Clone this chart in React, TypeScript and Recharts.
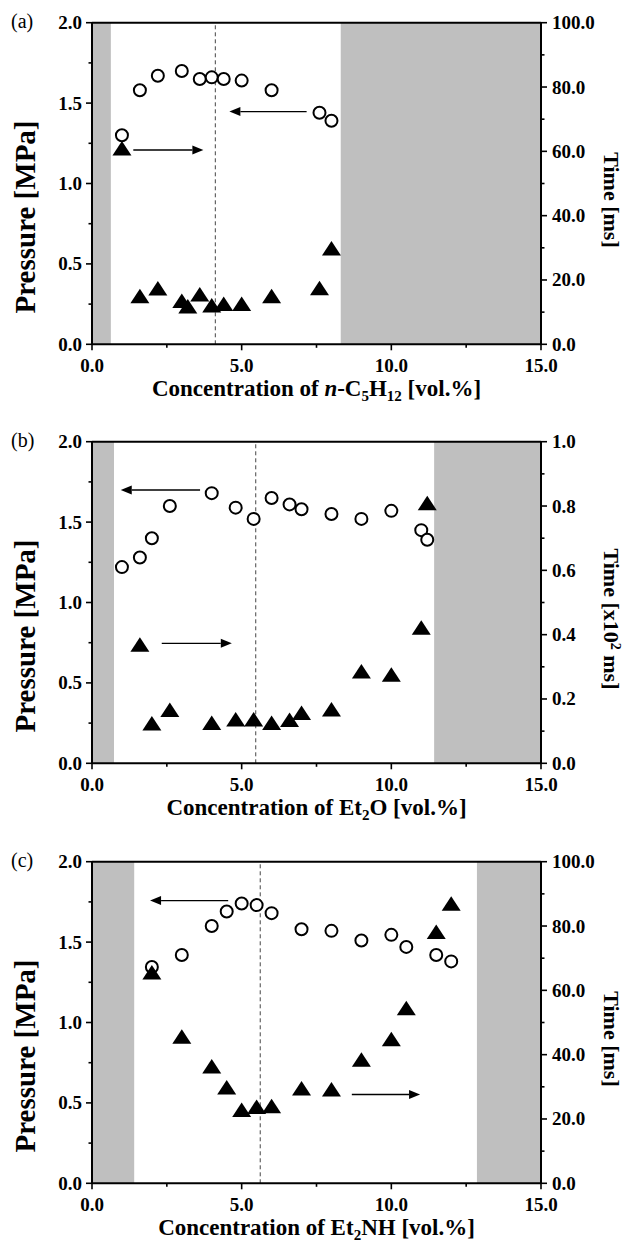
import React from 'react';
import { ScatterChart, Scatter, XAxis, YAxis, ReferenceArea, ReferenceLine, Label } from 'recharts';

const FONT = '"Liberation Serif", "Times New Roman", serif';

// x axis (concentration, vol.%)
const xTicks = [0, 2.5, 5, 7.5, 10, 12.5, 15];
const pressureTicks = [0, 0.25, 0.5, 0.75, 1, 1.25, 1.5, 1.75, 2];
const timeTicksMs = [0, 10, 20, 30, 40, 50, 60, 70, 80, 90, 100];
const timeTicksHms = [0, 0.1, 0.2, 0.3, 0.4, 0.5, 0.6, 0.7, 0.8, 0.9, 1.0];

// (a) n-C5H12
const concPressureA = [1.0, 1.6, 2.2, 3.0, 3.6, 4.0, 4.4, 5.0, 6.0, 7.6, 8.0];
const pressureA = [1.30, 1.58, 1.67, 1.70, 1.65, 1.66, 1.65, 1.64, 1.58, 1.44, 1.39];
const concTimeA = [1.0, 1.6, 2.2, 3.0, 3.2, 3.6, 4.0, 4.4, 5.0, 6.0, 7.6, 8.0];
const timeA = [60.7, 14.8, 17.2, 13.3, 11.6, 15.3, 11.9, 12.4, 12.4, 14.8, 17.3, 29.6];

// (b) Et2O
const concPressureB = [1.0, 1.6, 2.0, 2.6, 4.0, 4.8, 5.4, 6.0, 6.6, 7.0, 8.0, 9.0, 10.0, 11.0, 11.2];
const pressureB = [1.22, 1.28, 1.40, 1.60, 1.68, 1.59, 1.52, 1.65, 1.61, 1.58, 1.55, 1.52, 1.57, 1.45, 1.39];
const concTimeB = [1.6, 2.0, 2.6, 4.0, 4.8, 5.4, 6.0, 6.6, 7.0, 8.0, 9.0, 10.0, 11.0, 11.2];
const timeB = [0.367, 0.122, 0.164, 0.124, 0.135, 0.135, 0.124, 0.133, 0.155, 0.166, 0.284, 0.274, 0.42, 0.807];

// (c) Et2NH
const concPressureC = [2.0, 3.0, 4.0, 4.5, 5.0, 5.5, 6.0, 7.0, 8.0, 9.0, 10.0, 10.5, 11.5, 12.0];
const pressureC = [1.345, 1.42, 1.60, 1.69, 1.74, 1.73, 1.68, 1.58, 1.57, 1.51, 1.545, 1.47, 1.42, 1.38];
const concTimeC = [2.0, 3.0, 4.0, 4.5, 5.0, 5.5, 6.0, 7.0, 8.0, 9.0, 10.0, 10.5, 11.5, 12.0];
const timeC = [65.4, 45.4, 36.2, 29.6, 22.6, 23.6, 23.8, 29.3, 29.0, 38.3, 44.6, 54.3, 78.0, 86.8];

// non-flammable zones (shaded), stoichiometric line, arrow annotations [from, to, pressure]
const zonesA = [[0, 0.63], [8.31, 15]];
const zonesB = [[0, 0.735], [11.43, 15]];
const zonesC = [[0, 1.41], [12.86, 15]];
const stoichA = 4.12;
const stoichB = 5.47;
const stoichC = 5.62;
const arrowsA = [[1.38, 3.72, 1.208], [7.17, 4.59, 1.447]];
const arrowsB = [[3.61, 0.96, 1.70], [2.33, 4.67, 0.746]];
const arrowsC = [[4.55, 1.94, 1.758], [8.68, 10.96, 0.552]];

const W = 626;
const H = 420;

const toPoints = (xs: number[], ys: number[]) => xs.map((x, i) => ({ x, y: ys[i] }));

const makeTick = (side: 'left' | 'right' | 'bottom', step: number, digits: number) => (props: any) => {
  const { x, y, payload } = props;
  const v = payload.value;
  const major = Math.abs(v / step - Math.round(v / step)) < 1e-6;
  const len = major ? 6 : 3.5;
  const label = v.toFixed(digits);
  const txt = { fontFamily: FONT, fontWeight: 700, fontSize: 19, fill: '#000' };
  if (side === 'left') {
    return (
      <g>
        <line x1={x} y1={y} x2={x - len} y2={y} stroke="#000" strokeWidth={1.6} />
        {major && <text x={x - 10} y={y + 6.5} textAnchor="end" {...txt}>{label}</text>}
      </g>
    );
  }
  if (side === 'right') {
    return (
      <g>
        <line x1={x} y1={y} x2={x + len} y2={y} stroke="#000" strokeWidth={1.6} />
        {major && <text x={x + 11} y={y + 6.5} textAnchor="start" {...txt}>{label}</text>}
      </g>
    );
  }
  return (
    <g>
      <line x1={x} y1={y} x2={x} y2={y + len} stroke="#000" strokeWidth={1.6} />
      {major && <text x={x} y={y + 27.5} textAnchor="middle" {...txt}>{label}</text>}
    </g>
  );
};

const Arrow = (props: any) => {
  const { x1, y1, x2, y2 } = props;
  const dir = x2 > x1 ? 1 : -1;
  const head = 11;
  return (
    <g>
      <line x1={x1} y1={y1} x2={x2 - dir * head} y2={y2} stroke="#000" strokeWidth={1.4} />
      <polygon points={`${x2},${y2} ${x2 - dir * head},${y2 - 4.5} ${x2 - dir * head},${y2 + 4.5}`} fill="#000" />
    </g>
  );
};

const OpenCircle = (props: any) => (
  <circle cx={props.cx} cy={props.cy} r={6} fill="#fff" stroke="#000" strokeWidth={2} />
);

const FilledTriangle = (props: any) => {
  const { cx, cy } = props;
  return <polygon points={`${cx},${cy - 8} ${cx - 9.5},${cy + 6.5} ${cx + 9.5},${cy + 6.5}`} fill="#000" />;
};

type PanelProps = {
  tag: string;
  concP: number[];
  pres: number[];
  concT: number[];
  time: number[];
  timeTicks: number[];
  timeMax: number;
  timeStep: number;
  zones: number[][];
  stoich: number;
  arrows: number[][];
  xTitle: React.ReactNode;
  timeTitle: React.ReactNode;
};

function Panel(p: PanelProps) {
  const titleStyle = { fontFamily: FONT, fontWeight: 700, fill: '#000' };
  return (
    <div style={{ position: 'relative', width: W, height: H }}>
      <div style={{ position: 'absolute', left: 11, top: 9, fontFamily: FONT, fontSize: 20, lineHeight: '24px' }}>{p.tag}</div>
      <ScatterChart width={W} height={H} margin={{ top: 22.7, right: 0, bottom: 25.7, left: 0 }}>
        <XAxis
          type="number"
          dataKey="x"
          domain={[0, 15]}
          ticks={xTicks}
          interval={0}
          height={50}
          tickSize={0}
          tickMargin={0}
          tickLine={false}
          axisLine={{ stroke: '#000', strokeWidth: 2 }}
          tick={makeTick('bottom', 5, 1)}
        >
          <Label
            content={(lp: any) => {
              const vb = lp.viewBox;
              return (
                <text x={vb.x + vb.width / 2} y={vb.y + 52} textAnchor="middle" fontSize={23} {...titleStyle}>
                  {p.xTitle}
                </text>
              );
            }}
          />
        </XAxis>
        <YAxis
          yAxisId="p"
          type="number"
          dataKey="y"
          domain={[0, 2]}
          ticks={pressureTicks}
          interval={0}
          width={92}
          tickSize={0}
          tickMargin={0}
          tickLine={false}
          axisLine={{ stroke: '#000', strokeWidth: 2 }}
          tick={makeTick('left', 0.5, 1)}
        >
          <Label
            content={(lp: any) => {
              const vb = lp.viewBox;
              const cx = 35;
              const cy = vb.y + vb.height / 2 + 33.5;
              return (
                <text x={cx} y={cy} textAnchor="middle" fontSize={29} transform={`rotate(-90 ${cx} ${cy})`} {...titleStyle}>
                  Pressure [MPa]
                </text>
              );
            }}
          />
        </YAxis>
        <YAxis
          yAxisId="t"
          orientation="right"
          type="number"
          dataKey="y"
          domain={[0, p.timeMax]}
          ticks={p.timeTicks}
          interval={0}
          width={85}
          tickSize={0}
          tickMargin={0}
          tickLine={false}
          axisLine={{ stroke: '#000', strokeWidth: 2 }}
          tick={makeTick('right', p.timeStep, 1)}
        >
          <Label
            content={(lp: any) => {
              const vb = lp.viewBox;
              const cx = vb.x + 63;
              const cy = vb.y + vb.height / 2 + 16.5;
              return (
                <text x={cx} y={cy} textAnchor="middle" fontSize={22} transform={`rotate(90 ${cx} ${cy})`} {...titleStyle}>
                  {p.timeTitle}
                </text>
              );
            }}
          />
        </YAxis>
        {p.zones.map((z, i) => (
          <ReferenceArea key={`z${i}`} yAxisId="p" x1={z[0]} x2={z[1]} y1={0} y2={2} fill="#bfbfbf" fillOpacity={1} stroke="none" />
        ))}
        <ReferenceLine yAxisId="p" x={p.stoich} stroke="#444" strokeWidth={1} strokeDasharray="4 3" />
        <ReferenceLine yAxisId="p" y={2} stroke="#000" strokeWidth={2} />
        {p.arrows.map((a, i) => (
          <ReferenceLine
            key={`a${i}`}
            yAxisId="p"
            segment={[{ x: a[0], y: a[2] }, { x: a[1], y: a[2] }]}
            shape={(sp: any) => <Arrow {...sp} />}
          />
        ))}
        <Scatter yAxisId="p" data={toPoints(p.concP, p.pres)} shape={OpenCircle} isAnimationActive={false} />
        <Scatter yAxisId="t" data={toPoints(p.concT, p.time)} shape={FilledTriangle} isAnimationActive={false} />
      </ScatterChart>
    </div>
  );
}

export default function App() {
  return (
    <div style={{ position: 'absolute', left: 0, top: 0, width: W, height: 1249, background: '#fff' }}>
      <div style={{ position: 'absolute', left: 0, top: 0 }}>
        <Panel
          tag="(a)"
          concP={concPressureA}
          pres={pressureA}
          concT={concTimeA}
          time={timeA}
          timeTicks={timeTicksMs}
          timeMax={100}
          timeStep={20}
          zones={zonesA}
          stoich={stoichA}
          arrows={arrowsA}
          xTitle={
            <>
              <tspan>{'Concentration of '}</tspan>
              <tspan fontStyle="italic">n</tspan>
              <tspan>-C</tspan>
              <tspan dy={5} fontSize={15}>5</tspan>
              <tspan dy={-5}>H</tspan>
              <tspan dy={5} fontSize={15}>12</tspan>
              <tspan dy={-5}>{' [vol.%]'}</tspan>
            </>
          }
          timeTitle="Time [ms]"
        />
      </div>
      <div style={{ position: 'absolute', left: 0, top: 419 }}>
        <Panel
          tag="(b)"
          concP={concPressureB}
          pres={pressureB}
          concT={concTimeB}
          time={timeB}
          timeTicks={timeTicksHms}
          timeMax={1}
          timeStep={0.2}
          zones={zonesB}
          stoich={stoichB}
          arrows={arrowsB}
          xTitle={
            <>
              <tspan>{'Concentration of Et'}</tspan>
              <tspan dy={5} fontSize={15}>2</tspan>
              <tspan dy={-5}>{'O [vol.%]'}</tspan>
            </>
          }
          timeTitle={
            <>
              <tspan>{'Time [x10'}</tspan>
              <tspan dy={-7} fontSize={14}>2</tspan>
              <tspan dy={7}>{' ms]'}</tspan>
            </>
          }
        />
      </div>
      <div style={{ position: 'absolute', left: 0, top: 839 }}>
        <Panel
          tag="(c)"
          concP={concPressureC}
          pres={pressureC}
          concT={concTimeC}
          time={timeC}
          timeTicks={timeTicksMs}
          timeMax={100}
          timeStep={20}
          zones={zonesC}
          stoich={stoichC}
          arrows={arrowsC}
          xTitle={
            <>
              <tspan>{'Concentration of Et'}</tspan>
              <tspan dy={5} fontSize={15}>2</tspan>
              <tspan dy={-5}>{'NH [vol.%]'}</tspan>
            </>
          }
          timeTitle="Time [ms]"
        />
      </div>
    </div>
  );
}
